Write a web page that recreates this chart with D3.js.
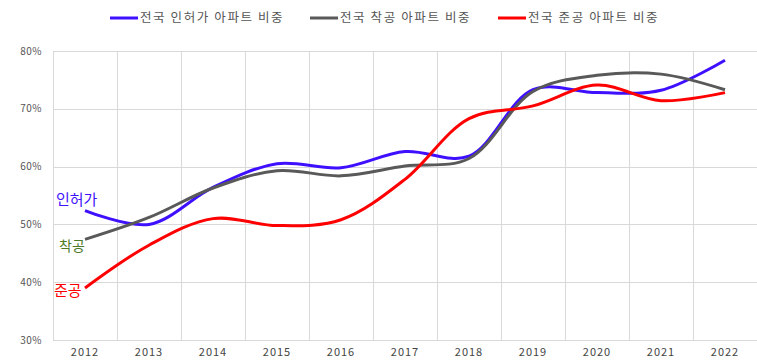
<!DOCTYPE html>
<html>
<head>
<meta charset="utf-8">
<script src="https://cdn.jsdelivr.net/npm/d3@7"></script>
<style>
body { margin: 0; background: #fff; }
text { font-family: "Noto Sans CJK KR", "DejaVu Sans", sans-serif; }
</style>
</head>
<body>
<div class="chart"></div>
<script>
const years = ["2012", "2013", "2014", "2015", "2016", "2017", "2018", "2019", "2020", "2021", "2022"];
const permitShare = [52.4, 50.0, 56.4, 60.5, 59.8, 62.6, 61.8, 73.3, 72.8, 73.2, 78.4];
const startShare = [47.4, 51.2, 56.3, 59.3, 58.4, 60.1, 61.4, 73.0, 75.8, 76.0, 73.3];
const completeShare = [39.0, 46.4, 51.0, 49.8, 50.8, 57.8, 68.3, 70.5, 74.1, 71.4, 72.8];
const yTicks = [30, 40, 50, 60, 70, 80];

const seriesNames = ["전국 인허가 아파트 비중", "전국 착공 아파트 비중", "전국 준공 아파트 비중"];
const seriesShort = ["인허가", "착공", "준공"];
const seriesColors = ["#3f10ff", "#595959", "#ff0000"];
const labelColors = ["#3f10ff", "#4f7a28", "#ff0000"];
const seriesValues = [permitShare, startShare, completeShare];

const width = 757, height = 363;
const margin = { top: 51, right: 0, bottom: 23, left: 53 };

const svg = d3.select(".chart")
    .append("svg")
    .attr("width", width)
    .attr("height", height);

const x = d3.scaleBand()
    .domain(years)
    .range([margin.left, width - margin.right])
    .padding(0);

const y = d3.scaleLinear()
    .domain([30, 80])
    .range([height - margin.bottom, margin.top]);

// grid
svg.append("g")
    .selectAll("line")
    .data(yTicks)
    .enter()
    .append("line")
    .attr("x1", margin.left)
    .attr("x2", width - margin.right)
    .attr("y1", d => Math.round(y(d)) + 0.5)
    .attr("y2", d => Math.round(y(d)) + 0.5)
    .style("stroke", "#d9d9d9");

svg.append("g")
    .selectAll("line")
    .data(years)
    .enter()
    .append("line")
    .attr("x1", d => Math.round(x(d)) + 0.5)
    .attr("x2", d => Math.round(x(d)) + 0.5)
    .attr("y1", margin.top)
    .attr("y2", height - margin.bottom)
    .style("stroke", "#d9d9d9");

// y axis labels
svg.append("g")
    .selectAll("text")
    .data(yTicks)
    .enter()
    .append("text")
    .attr("x", 42)
    .attr("y", d => y(d))
    .attr("dy", "0.35em")
    .style("text-anchor", "end")
    .style("font-size", "10px")
    .style("letter-spacing", "0.5px")
    .style("fill", "#555")
    .text(d => d + "%");

// x axis labels
svg.append("g")
    .selectAll("text")
    .data(years)
    .enter()
    .append("text")
    .attr("x", d => x(d) + x.bandwidth() / 2)
    .attr("y", 352)
    .attr("dy", "0.35em")
    .style("text-anchor", "middle")
    .style("font-size", "11px")
    .style("letter-spacing", "1px")
    .style("fill", "#444")
    .text(d => d);

const line = d3.line()
    .x((d, i) => x(years[i]) + x.bandwidth() / 2)
    .y(d => y(d))
    .curve(d3.curveCatmullRom.alpha(0.5));

svg.append("g")
    .selectAll("path")
    .data(seriesValues)
    .enter()
    .append("path")
    .attr("d", d => line(d))
    .style("fill", "none")
    .style("stroke", (d, i) => seriesColors[i])
    .style("stroke-width", 3);

// labels at line start
const labelPos = [
    { x: 56, dy: -11, size: 15 },
    { x: 59, dy: 7, size: 14 },
    { x: 54, dy: 3, size: 15 }
];
svg.append("g")
    .selectAll("text")
    .data(seriesValues)
    .enter()
    .append("text")
    .attr("x", (d, i) => labelPos[i].x)
    .attr("y", (d, i) => y(d[0]) + labelPos[i].dy)
    .attr("dy", "0.35em")
    .style("font-size", (d, i) => labelPos[i].size + "px")
    .style("fill", (d, i) => labelColors[i])
    .text((d, i) => seriesShort[i]);

// legend
const legendX = [110, 310, 498];
const legend = svg.append("g")
    .selectAll("g")
    .data(seriesNames)
    .enter()
    .append("g")
    .attr("transform", (d, i) => `translate(${legendX[i]},18)`);

legend.append("line")
    .attr("x1", 0)
    .attr("x2", 28)
    .style("stroke", (d, i) => seriesColors[i])
    .style("stroke-width", 3);

legend.append("text")
    .attr("x", 30)
    .attr("dy", "0.35em")
    .style("font-size", "12.5px")
    .style("letter-spacing", "1.6px")
    .style("fill", "#555")
    .text(d => d);
</script>
</body>
</html>
